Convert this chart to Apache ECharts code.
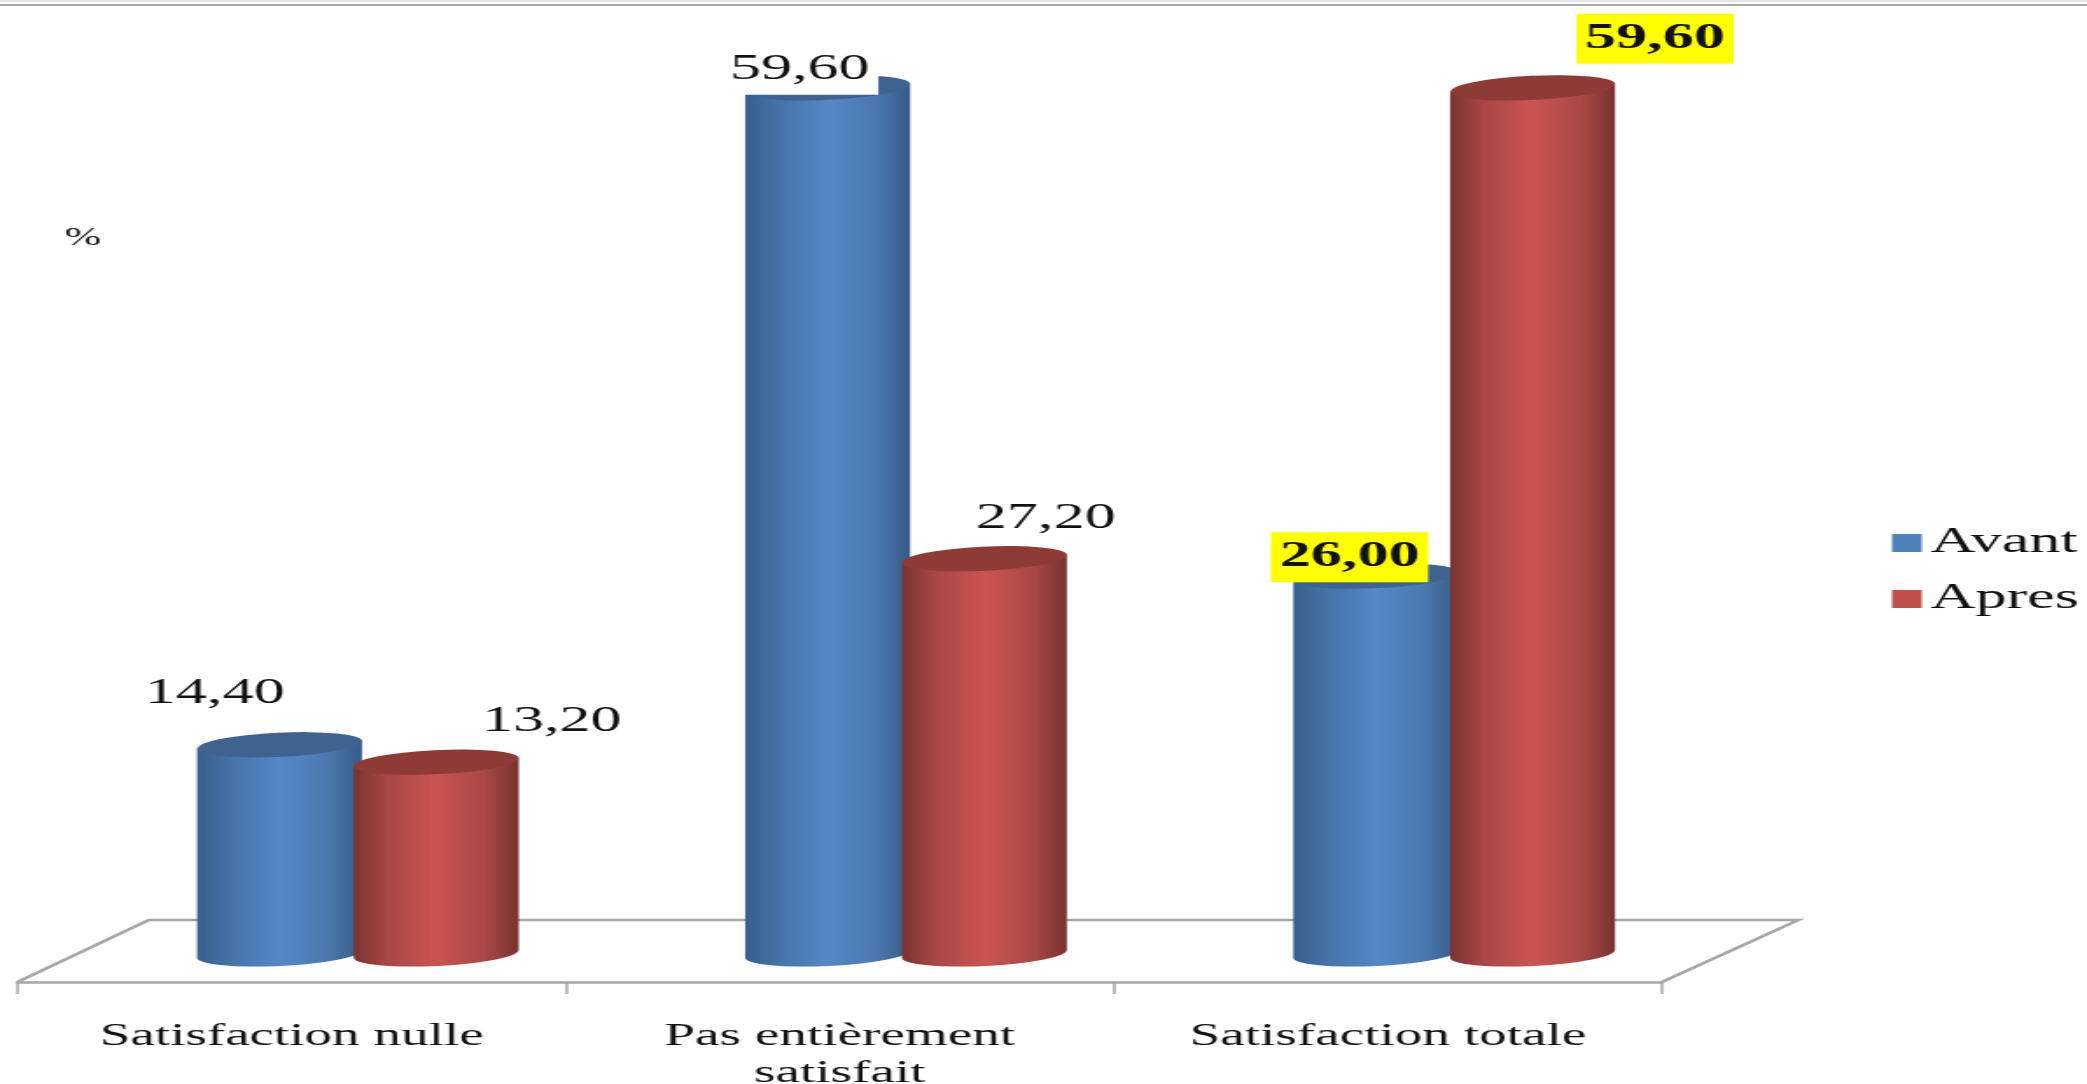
<!DOCTYPE html>
<html>
<head>
<meta charset="utf-8">
<script src="https://cdn.jsdelivr.net/npm/echarts@6/dist/echarts.min.js"></script>
<style>
html,body{margin:0;padding:0;background:#fff;overflow:hidden;width:2087px;height:1084px}
#chart{width:1193px;height:1084px;transform:scaleX(1.7494);transform-origin:0 0;position:absolute;left:0;top:0}
</style>
</head>
<body>
<div id="chart"></div>
<script>
const categories = ['Satisfaction nulle', 'Pas entièrement\nsatisfait', 'Satisfaction totale'];
const avant = [14.4, 59.6, 26.0];
const apres = [13.2, 27.2, 59.6];
const seriesNames = ['Avant', 'Apres'];

// Label placement relative to the top of each cylinder
const avantLabelOffsets = [[-37, -51], [-16, -18], [-15, -19]];
const apresLabelOffsets = [[66, -40], [35, -40], [70, -49]];
const avantLabelBg = [null, '#ffffff', '#ffff00'];
const apresLabelBg = [null, null, '#ffff00'];
const avantLabelBold = [false, false, true];
const apresLabelBold = [false, false, true];

const blueStops = ['#385f8c', '#4672a8', '#5687ca', '#4a78ae', '#375a85'];
const redStops = ['#7a3431', '#a84745', '#cb5452', '#a84846', '#773230'];
const blueTop = '#3f638e';
const redTop = '#8e3b38';

const TILT = 4.9;
const RY = 12;
const DEG = Math.PI / 180;

function gradient(stops) {
  return new echarts.graphic.LinearGradient(0, 0, 1, 0, [
    {offset: 0, color: stops[0]},
    {offset: 0.2, color: stops[1]},
    {offset: 0.5, color: stops[2]},
    {offset: 0.8, color: stops[3]},
    {offset: 1, color: stops[4]}
  ]);
}

function cylinder(shift, stops, topColor, offsets, bgs, bolds) {
  return function (params, api) {
    const i = api.value(0);
    const v = api.value(1);
    const top = api.coord([i, v]);
    const base = api.coord([i, 0]);
    const band = api.size([1, 0])[0];
    const cx = top[0] + band * shift;
    const rx = band * 0.151;
    const dx = rx * Math.cos(TILT * DEG);
    const dy = rx * Math.sin(TILT * DEG);
    const arc = 'A ' + rx + ' ' + RY + ' ' + (-TILT) + ' 1 ';
    const body = 'M ' + (cx - dx) + ' ' + (top[1] + dy) +
      ' L ' + (cx - dx) + ' ' + (base[1] + dy) +
      ' ' + arc + '0 ' + (cx + dx) + ' ' + (base[1] - dy) +
      ' L ' + (cx + dx) + ' ' + (top[1] - dy) + ' Z';
    const cap = 'M ' + (cx - dx) + ' ' + (top[1] + dy) +
      ' ' + arc + '1 ' + (cx + dx) + ' ' + (top[1] - dy) +
      ' ' + arc + '1 ' + (cx - dx) + ' ' + (top[1] + dy) + ' Z';
    const off = offsets[i];
    return {
      type: 'group',
      children: [
        {type: 'path', shape: {pathData: body}, style: {fill: gradient(stops)}},
        {type: 'path', shape: {pathData: cap}, style: {fill: topColor}},
        {
          type: 'text',
          z2: 50,
          style: {
            x: cx + off[0],
            y: top[1] + off[1],
            text: v.toFixed(2).replace('.', ','),
            align: 'center',
            verticalAlign: 'middle',
            fill: '#111',
            font: (bolds[i] ? 'bold ' : '') + '35.5px "Liberation Serif"',
            backgroundColor: bgs[i] || undefined,
            padding: bgs[i] ? [7, 5, 7, 5] : 0
          }
        }
      ]
    };
  };
}

function floor(params, api) {
  const cs = params.coordSys;
  const fy = cs.y + cs.height + 28;
  const by = fy - 62;
  const l = cs.x, r = cs.x + cs.width;
  return {
    type: 'polyline',
    shape: {points: [[l, fy], [l + 75, by], [r + 78, by], [r, fy]]},
    style: {stroke: '#a6a6a6', lineWidth: 2.5, fill: null}
  };
}

const chart = echarts.init(document.getElementById('chart'));
chart.setOption({
  animation: false,
  backgroundColor: '#fff',
  grid: {left: 10, top: 82, width: 940, height: 872, containLabel: false, outerBoundsMode: 'none'},
  legend: {
    data: seriesNames,
    orient: 'vertical',
    left: 1076.5,
    top: 520,
    itemWidth: 17,
    itemHeight: 18,
    itemGap: 20,
    icon: 'rect',
    textStyle: {fontFamily: 'Liberation Serif', fontSize: 35.5, lineHeight: 36, color: '#111', padding: 0}
  },
  xAxis: {
    type: 'category',
    data: categories,
    offset: 28,
    axisLine: {onZero: false, lineStyle: {color: '#a6a6a6', width: 2.5}},
    axisTick: {show: true, length: 12, lineStyle: {color: '#a6a6a6', width: 1.5}},
    axisLabel: {
      interval: 0,
      margin: 36,
      fontFamily: 'Liberation Serif',
      fontSize: 31.5,
      lineHeight: 37,
      color: '#111'
    }
  },
  yAxis: {
    type: 'value',
    min: 0,
    max: 60,
    name: '%',
    nameLocation: 'end',
    nameGap: -169,
    nameTextStyle: {fontFamily: 'Liberation Serif', fontSize: 25, color: '#111', align: 'left', padding: [0, 0, 0, 27]},
    axisLine: {show: false},
    axisTick: {show: false},
    axisLabel: {show: false},
    splitLine: {show: false}
  },
  series: [
    {name: 'floor', type: 'custom', silent: true, coordinateSystem: 'cartesian2d', renderItem: floor, data: [[0, 0]]},
    {
      name: seriesNames[0], type: 'custom', coordinateSystem: 'cartesian2d',
      itemStyle: {color: '#4f81bd'},
      renderItem: cylinder(-0.022, blueStops, blueTop, avantLabelOffsets, avantLabelBg, avantLabelBold),
      data: avant.map((v, i) => [i, v])
    },
    {
      name: seriesNames[1], type: 'custom', coordinateSystem: 'cartesian2d',
      itemStyle: {color: '#c0504d'},
      renderItem: cylinder(0.264, redStops, redTop, apresLabelOffsets, apresLabelBg, apresLabelBold),
      data: apres.map((v, i) => [i, v])
    }
  ],
  graphic: [
    {type: 'line', silent: true, shape: {x1: 0, y1: 1, x2: 1193, y2: 1}, style: {stroke: '#e4e4e4', lineWidth: 2}},
    {type: 'line', silent: true, shape: {x1: 0, y1: 5, x2: 1193, y2: 5}, style: {stroke: '#a8a8a8', lineWidth: 2}}
  ]
});
</script>
</body>
</html>
